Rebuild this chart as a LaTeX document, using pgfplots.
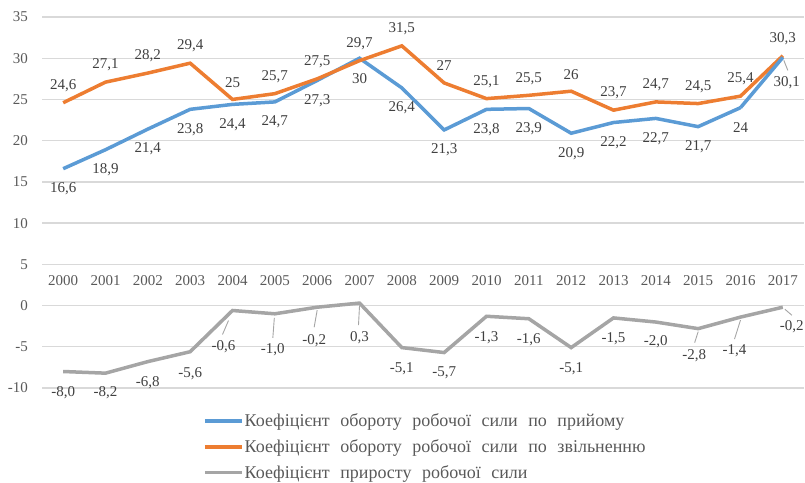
\documentclass[border=0pt]{standalone}
\usepackage{fontspec}
\setmainfont{Liberation Serif}
\usepackage{pgfplots}
\pgfplotsset{compat=1.18}
\usepackage{pgfplotstable}
\definecolor{cblue}{HTML}{5B9BD5}
\definecolor{corange}{HTML}{ED7D31}
\definecolor{cgray}{HTML}{A5A5A5}
\definecolor{gridc}{HTML}{D9D9D9}
\definecolor{tickc}{HTML}{595959}
\definecolor{lblc}{HTML}{404040}
\newcommand{\wsp}{\spaceskip=10.5bp\relax}

\pgfplotstableread{
x y lbl
0 16.6 16,6
1 18.9 18,9
2 21.4 21,4
3 23.8 23,8
4 24.4 24,4
5 24.7 24,7
6 27.3 27,3
7 30.0 30
8 26.4 26,4
9 21.3 21,3
10 23.8 23,8
11 23.9 23,9
12 20.9 20,9
13 22.2 22,2
14 22.7 22,7
15 21.7 21,7
16 24.0 24
}\bluetab

\pgfplotstableread{
x y lbl
0 24.6 24,6
1 27.1 27,1
2 28.2 28,2
3 29.4 29,4
4 25.0 25
5 25.7 25,7
6 27.5 27,5
7 29.7 29,7
8 31.5 31,5
9 27.0 27
10 25.1 25,1
11 25.5 25,5
12 26.0 26
13 23.7 23,7
14 24.7 24,7
15 24.5 24,5
16 25.4 25,4
17 30.3 30,3
}\orangetab

\pgfplotstableread{
x y lbl lx ly
0 -8.0 -8,0 0 -21
1 -8.2 -8,2 0 -20
2 -6.8 -6,8 0 -21
3 -5.6 -5,6 0 -22
4 -0.6 -0,6 -9 -36
5 -1.0 -1,0 -2 -36
6 -0.2 -0,2 -3 -33
7 0.3 0,3 0 -35
8 -5.1 -5,1 0 -21
9 -5.7 -5,7 0 -20
10 -1.3 -1,3 0 -21
11 -1.6 -1,6 0 -21
12 -5.1 -5,1 0 -21
13 -1.5 -1,5 0 -21
14 -2.0 -2,0 0 -20
15 -2.8 -2,8 -4 -27
16 -1.4 -1,4 -6 -34
17 -0.2 -0,2 9 -19
}\graytab

\begin{document}
\begin{tikzpicture}
\useasboundingbox (0,0) rectangle (805bp,483bp);
\begin{axis}[
  at={(42bp,95bp)}, anchor=south west,
  scale only axis, width=762bp, height=371bp,
  xmin=-0.5, xmax=17.5, ymin=-10, ymax=35,
  xtick={0,...,17},
  xticklabels={2000,2001,2002,2003,2004,2005,2006,2007,2008,2009,2010,2011,2012,2013,2014,2015,2016,2017},
  ytick={-10,-5,0,5,10,15,20,25,30,35},
  yticklabels={-10,-5,0,5,10,15,20,25,30,35},
  axis line style={draw=none},
  major tick length=0pt,
  ymajorgrids, grid style={gridc, line width=1.3bp},
  tick label style={font=\fontsize{15bp}{18bp}\selectfont, text=tickc},
  xticklabel style={anchor=center, inner sep=0pt, yshift=107bp},
  yticklabel style={anchor=east, inner sep=0pt, xshift=-14bp},
  clip=false,
  every axis plot/.append style={line width=3.5bp, mark=none},
  point meta=explicit symbolic,
  nodes near coords={\pgfplotspointmeta},
  nodes near coords style={font=\fontsize{15bp}{18bp}\selectfont, text=lblc, anchor=center, inner sep=0pt},
  legend style={at={(axis description cs:0.2113,-0.066)}, anchor=north west,
    draw=none, fill=none, inner sep=0pt, row sep=9.5bp,
    font=\fontsize{18bp}{20bp}\selectfont, text=tickc,
    nodes={inner sep=1bp}},
  legend cell align=left,
  legend image code/.code={\draw[#1, line width=3.5bp] (0bp,0bp) -- (37bp,0bp);},
]
\addplot[cblue, every node near coord/.append style={yshift=-20bp}]
  table[x=x, y=y, meta=lbl] {\bluetab};
\addlegendentry{\wsp Коефіцієнт обороту робочої сили по прийому}
\addplot[corange, every node near coord/.append style={yshift=17bp}]
  table[x=x, y=y, meta=lbl] {\orangetab};
\addlegendentry{\wsp Коефіцієнт обороту робочої сили по звільненню}
\addplot[cgray,
  visualization depends on={\thisrow{lx}\as\lblx},
  visualization depends on={\thisrow{ly}\as\lbly},
  every node near coord/.append style={xshift={\lblx*1bp}, yshift={\lbly*1bp}}]
  table[x=x, y=y, meta=lbl] {\graytab};
\addlegendentry{\wsp Коефіцієнт приросту робочої сили}
% last blue segment with its own label position
\addplot[cblue, forget plot, nodes near coords={}]
  coordinates {(16,24.0) (17,30.1)};
\addplot[cblue, forget plot, draw=none, nodes near coords={30,1},
  every node near coord/.append style={xshift=4bp, yshift=-25bp}]
  coordinates {(17,30.1)};
% leader lines
\begin{scope}[cgray, line width=0.9bp]
\draw (axis cs:4,-0.6) ++(-4bp,-10bp) -- ++(-6bp,-14bp);
\draw (axis cs:5,-1.0) ++(-0.5bp,-4bp) -- ++(-1.5bp,-20bp);
\draw (axis cs:6,-0.2) ++(0bp,-3bp) -- ++(-3bp,-17bp);
\draw (axis cs:7,0.3) ++(0bp,-3bp) -- ++(-1bp,-19bp);
\draw (axis cs:15,-2.8) ++(0bp,-3bp) -- ++(-3.5bp,-11bp);
\draw (axis cs:16,-1.4) ++(0bp,-3bp) -- ++(-6bp,-19bp);
\draw (axis cs:17,-0.2) ++(2bp,-2bp) -- ++(7bp,-6bp);
\draw (axis cs:17,30.1) ++(1bp,-3bp) -- ++(4bp,-10bp);
\end{scope}
\end{axis}
\end{tikzpicture}
\end{document}
